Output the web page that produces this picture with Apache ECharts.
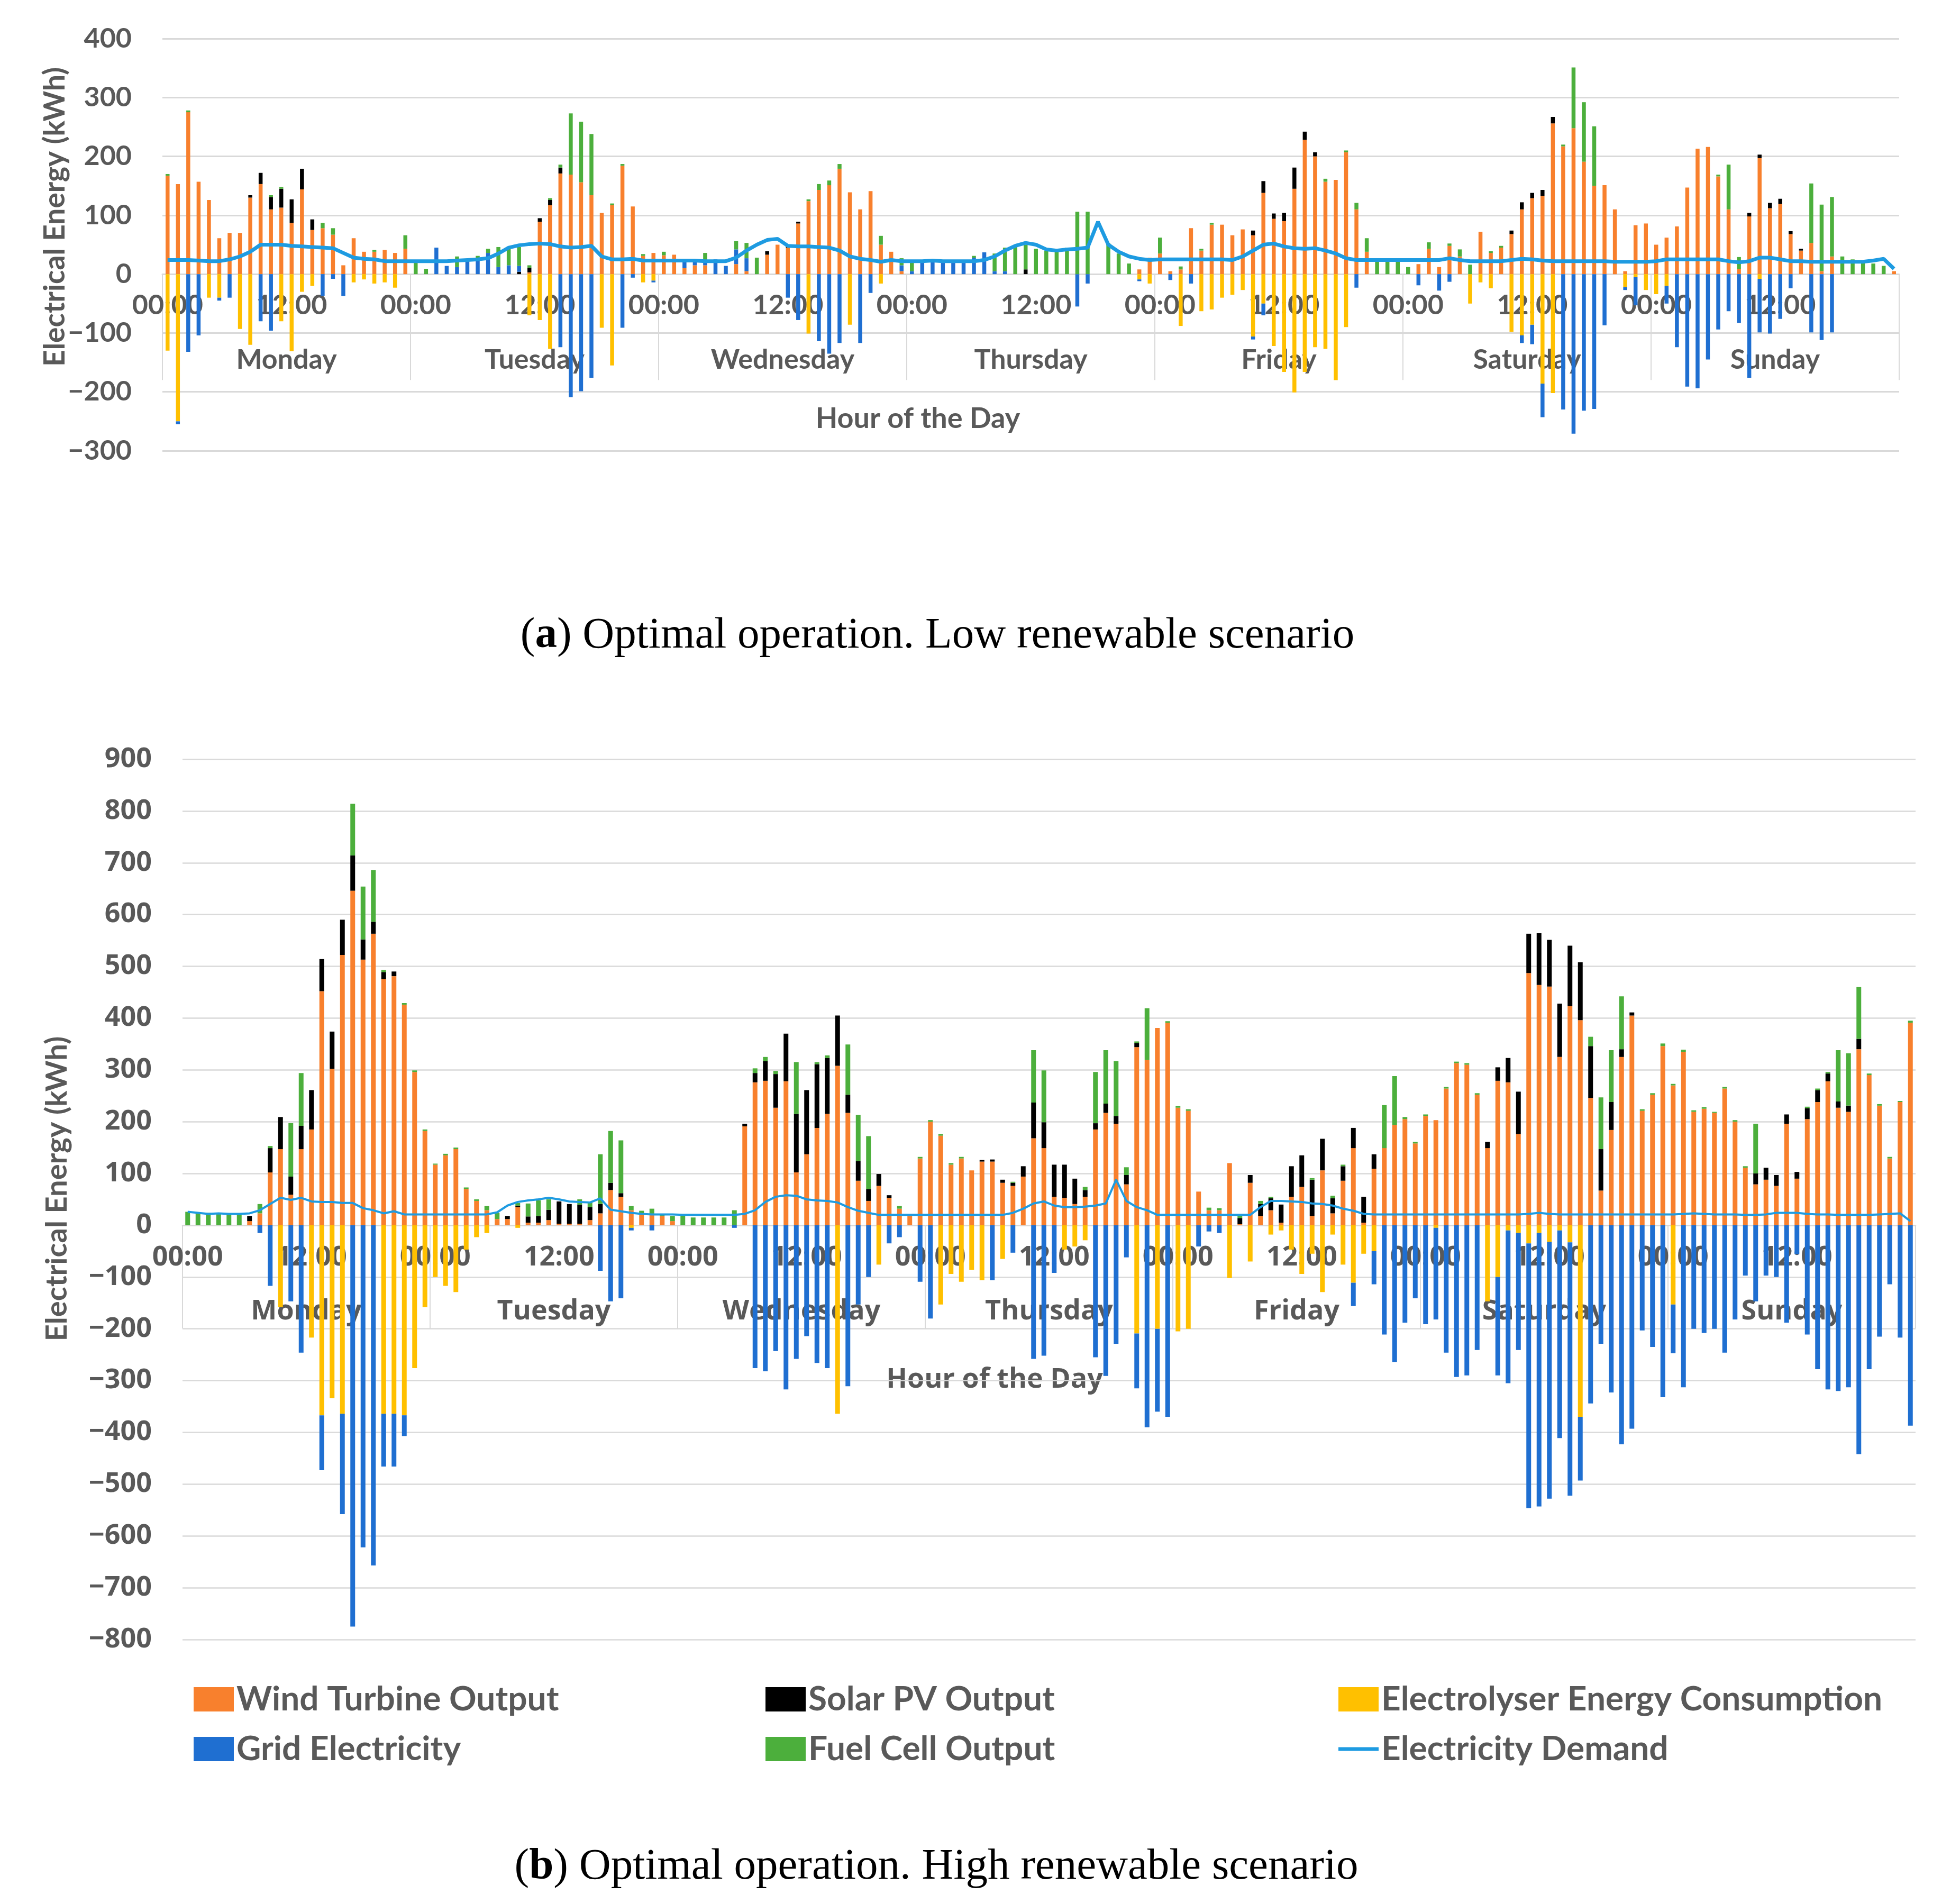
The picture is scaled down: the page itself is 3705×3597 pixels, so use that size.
<!DOCTYPE html>
<html>
<head>
<meta charset="utf-8">
<title>Optimal operation - low and high renewable scenario</title>
<script src="https://cdn.jsdelivr.net/npm/echarts@6/dist/echarts.min.js"></script>
<style>
html, body { margin: 0; padding: 0; background: #fff; }
#main { width: 3705px; height: 3597px; }
</style>
</head>
<body>
<div id="main"></div>
<script>
// categories
var hourLabels = ['00:00','01:00','02:00','03:00','04:00','05:00','06:00','07:00','08:00','09:00','10:00','11:00',
                  '12:00','13:00','14:00','15:00','16:00','17:00','18:00','19:00','20:00','21:00','22:00','23:00'];
var days = ['Monday','Tuesday','Wednesday','Thursday','Friday','Saturday','Sunday'];

// (a) low renewable scenario, one value per hour, Monday..Sunday
var windA = [
  167,153,275,157,126,61,70,70,130,153,110,113,87,144,75,78,67,15,61,38,38,41,36,43,
  0,0,0,0,0,0,0,0,0,0,0,3,89,117,171,169,156,134,104,117,184,115,31,36,
  32,33,10,15,15,0,0,17,5,0,33,50,45,86,124,143,151,179,139,110,141,50,38,5,
  0,0,0,0,0,0,0,0,0,0,0,0,0,0,0,0,0,0,0,0,0,0,8,28,
  35,5,8,78,40,84,84,66,76,66,138,94,90,145,228,200,157,160,207,110,38,0,0,0,
  0,17,43,12,48,30,0,72,36,45,68,110,129,133,256,217,248,191,150,151,110,5,83,86,
  50,62,81,147,213,216,166,110,9,98,197,112,119,68,40,53,5,30,0,0,0,0,0,5
];
var solarA = [
  0,0,0,0,0,0,0,0,4,19,21,32,40,35,18,0,0,0,0,0,0,0,0,0,
  0,0,0,0,0,0,0,0,0,0,4,8,6,9,10,0,0,0,0,0,0,0,0,0,
  0,0,0,0,0,0,0,0,0,0,6,0,3,3,0,0,0,0,0,0,0,0,0,0,
  0,0,0,0,0,0,0,0,0,0,0,8,0,0,0,0,0,0,0,0,0,0,0,0,
  0,0,0,0,0,0,0,0,0,8,20,9,14,36,14,7,0,0,0,0,0,0,0,0,
  0,0,0,0,0,0,0,0,0,0,6,12,9,10,11,0,0,0,0,0,0,0,0,0,
  0,0,0,0,0,0,0,0,0,6,6,9,9,5,3,0,0,0,0,0,0,0,0,0
];
var elecA = [
  -130,-250,0,0,-40,-40,0,-93,-120,0,0,-80,-131,-30,-20,0,0,0,-14,-9,-16,-14,-23,0,
  0,0,0,0,0,0,0,0,0,0,0,-70,-78,-127,0,0,0,0,-91,-155,0,0,-14,-11,
  0,0,0,0,0,0,0,0,0,0,0,0,0,0,-101,0,0,0,-86,0,0,-16,0,0,
  0,0,0,0,0,0,0,0,0,0,0,0,0,0,0,0,0,0,0,0,0,0,-9,-16,
  0,0,-88,0,-63,-60,-40,-35,-27,-106,-50,-122,-166,-201,-166,-124,-127,-180,-90,0,0,0,0,0,
  0,0,0,0,0,0,-50,-14,-24,0,-98,-104,-86,-186,-202,0,0,0,0,0,0,-22,-5,-27,
  -34,-20,0,0,0,0,0,0,0,0,-8,0,0,0,0,0,0,0,0,0,0,0,0,0
];
var gridA = [
  0,-5,-132,-104,0,-5,-40,0,0,-80,-96,0,0,0,0,-37,-8,-37,0,0,0,0,0,0,
  0,0,45,14,12,22,25,36,12,15,10,0,0,0,-124,-209,-199,-176,0,0,-91,-6,0,-3,
  0,0,15,8,5,25,14,25,22,0,0,0,-40,-78,0,-114,-135,-117,0,-117,-32,0,0,10,
  5,22,23,22,22,22,28,37,5,5,0,0,0,0,0,0,-55,-16,0,0,0,0,-3,0,
  0,-10,0,-16,0,0,0,0,0,-5,-20,0,0,0,0,0,0,0,0,-23,0,0,0,0,
  0,-19,0,-28,-13,0,0,0,0,0,0,-13,-33,-57,0,-230,-271,-232,-229,-87,0,-5,-48,0,
  0,-30,-124,-191,-194,-145,-94,-63,-83,-176,-91,-101,-76,-24,0,-99,-112,-99,0,0,0,0,0,0
];
var fuelA = [
  3,0,3,0,0,0,0,0,0,0,3,3,0,0,0,9,11,0,0,0,3,0,0,23,
  22,9,0,0,18,0,6,7,34,30,32,4,0,3,5,104,103,104,0,3,3,0,3,0,
  6,0,0,0,16,0,0,14,26,28,0,0,0,0,3,10,8,8,0,0,0,15,0,12,
  14,0,0,0,0,0,3,0,30,40,48,42,43,40,40,45,106,106,0,53,35,18,0,0,
  27,0,5,0,3,3,0,0,0,0,0,0,0,0,0,0,5,0,3,11,23,22,22,23,
  12,0,11,0,4,12,16,0,3,3,0,0,0,0,0,3,103,101,101,0,0,0,0,0,
  0,0,0,0,0,0,3,76,20,0,0,0,0,0,0,101,113,101,30,25,23,18,14,0
];
var demandA = [
  24,24,24,23,22,22,25,30,38,50,50,50,48,47,46,45,44,36,28,26,25,22,22,22,
  22,22,22,22,23,24,25,27,35,45,49,51,52,51,47,45,46,48,30,25,25,26,23,23,
  23,23,23,23,22,22,22,28,40,50,58,60,48,47,47,46,45,40,30,26,24,21,24,22,
  22,22,23,22,22,22,22,24,30,40,48,53,50,42,40,42,43,45,89,50,38,30,26,24,
  25,25,25,25,25,25,25,24,30,40,50,52,47,44,43,44,40,35,27,24,24,24,24,24,
  24,24,24,24,27,24,22,22,22,22,24,26,25,23,22,22,22,22,22,22,21,21,21,21,
  22,25,25,25,25,25,25,22,20,22,28,28,25,22,22,21,21,21,21,21,21,23,26,9
];

// (b) high renewable scenario
var windB = [
  0,0,0,0,0,0,8,23,102,147,59,147,185,452,302,522,646,513,563,475,481,426,296,182,
  117,135,147,70,47,29,12,12,35,5,5,10,3,3,3,10,23,68,55,29,23,20,18,8,
  0,0,0,0,0,0,191,276,279,227,278,102,137,188,215,308,217,86,47,76,53,32,18,129,
  200,173,117,129,106,123,123,82,76,94,168,149,55,53,41,55,185,217,196,79,344,319,381,391,
  227,221,65,29,29,120,2,82,18,29,5,55,74,18,106,23,86,149,5,109,149,194,205,158,
  211,203,264,313,310,252,149,279,276,176,487,464,461,325,423,396,246,67,184,325,405,221,252,346,
  270,335,219,225,217,264,200,111,79,88,76,196,90,205,238,278,227,219,340,290,231,129,238,391
];
var solarB = [
  0,0,0,0,0,0,10,0,47,62,35,45,76,62,72,68,68,39,23,14,9,0,0,0,
  0,0,0,0,0,0,0,6,3,12,13,20,43,38,37,25,18,14,7,0,0,0,0,0,
  0,0,0,0,0,0,5,18,38,65,92,113,124,123,108,97,35,38,23,23,5,0,0,0,
  0,0,0,0,0,3,4,6,6,20,69,50,62,64,49,13,12,18,15,18,8,0,0,0,
  0,0,0,0,0,0,12,15,23,23,35,59,61,70,61,29,28,39,50,28,0,0,0,0,
  0,0,0,0,0,0,12,26,47,82,76,100,90,103,117,112,100,80,54,15,6,0,0,0,
  0,0,0,0,0,0,0,0,21,23,21,18,13,21,23,15,12,12,20,0,0,0,0,0
];
var elecB = [
  0,0,0,0,0,0,0,0,0,-158,0,0,-217,-367,-334,-364,0,0,0,-364,-364,-367,-276,-158,
  -100,-117,-129,-47,-23,-15,0,0,-5,0,0,0,0,0,0,0,0,0,0,-5,0,0,0,0,
  0,0,0,0,0,0,0,0,0,0,0,0,0,0,0,-364,0,0,0,-76,0,0,0,0,
  0,-153,-94,-109,-86,-106,0,-65,0,0,0,0,0,-47,-41,-29,0,0,0,0,-209,0,-200,0,
  -205,-200,0,0,0,-102,0,-70,0,-18,-10,-47,-94,-55,-129,-18,-76,-111,-55,-50,0,0,0,0,
  0,-5,0,0,0,0,-147,-100,-10,-15,-35,-15,-32,-10,-33,-370,0,0,0,0,0,0,0,0,
  -153,0,0,0,0,0,0,0,0,0,0,0,0,0,0,0,0,0,0,0,0,0,0,0
];
var gridB = [
  0,0,0,0,0,0,0,-15,-117,0,-147,-246,0,-106,0,-194,-775,-622,-657,-102,-102,-40,0,0,
  0,0,0,0,0,0,0,0,0,0,0,0,0,0,0,0,-88,-147,-141,-5,0,-10,0,0,
  0,0,0,0,0,-5,0,-276,-282,-243,-317,-258,-214,-266,-276,0,-311,-153,-100,0,-35,-23,0,-109,
  -180,0,0,0,0,0,-106,0,-53,0,-258,-252,-92,0,0,0,-255,-291,-229,-62,-106,-390,-160,-370,
  0,0,-41,-12,-15,0,0,0,0,0,0,0,0,0,0,0,0,-45,0,-64,-211,-264,-188,-141,
  -191,-177,-246,-293,-290,-241,0,-190,-295,-226,-511,-528,-496,-401,-489,-123,-344,-229,-323,-423,-393,-203,-235,-332,
  -94,-313,-200,-208,-200,-246,-182,-97,-147,-97,-100,-188,-56,-211,-278,-317,-320,-313,-442,-278,-215,-114,-217,-387
];
var fuelB = [
  26,24,24,22,22,22,0,18,4,0,103,102,0,0,0,0,100,102,100,4,0,3,3,3,
  2,3,3,3,3,8,12,0,5,25,30,20,0,0,10,10,96,100,102,8,5,12,3,10,
  20,15,15,15,15,29,0,9,8,6,0,100,0,4,5,0,97,89,102,0,0,5,0,3,
  3,3,3,3,0,0,0,0,2,0,101,100,0,0,0,6,99,103,106,15,3,100,0,3,
  3,3,0,5,4,0,5,0,6,3,0,0,0,3,0,5,3,0,0,0,83,94,4,3,
  3,0,3,3,3,3,0,0,0,0,0,0,0,0,0,0,18,100,100,102,0,3,3,5,
  3,4,3,3,2,3,3,3,96,0,0,0,0,3,3,3,99,101,100,3,3,3,2,4
];
var demandB = [
  26,24,22,23,22,22,23,29,41,53,49,53,46,45,45,43,43,33,29,23,27,21,21,21,
  21,21,21,21,21,21,25,38,45,48,50,53,50,46,45,44,52,30,27,24,22,21,21,21,
  20,20,20,20,20,20,22,29,45,55,58,57,50,48,47,44,35,28,24,20,20,20,20,20,
  20,20,20,20,20,20,20,20,24,32,42,46,38,35,35,36,38,42,88,47,35,29,20,20,
  20,20,20,20,20,20,20,20,35,47,47,46,45,42,41,38,32,28,22,21,21,21,21,21,
  21,21,21,21,21,21,21,21,21,21,22,24,22,21,21,21,21,21,21,21,21,21,21,21,
  21,22,23,22,21,21,21,20,20,21,24,24,24,22,21,21,20,20,20,20,21,22,23,8
];

var hours = [];
for (var d = 0; d < days.length; d++) hours = hours.concat(hourLabels);

var GREY = '#595959';
var LINE = '#D9D9D9';
var C = { wind: '#F8802D', solar: '#000000', elec: '#FFC000', grid: '#1F6FD1', fuel: '#4CAF3C', demand: '#1E9BE1' };
var H = 3597;

var pA = { left: 307, right: 115, top: 73, bottom: 2745, min: -300, max: 400, font: 'Lato', fs: 52, tick: 200, gl: 3 };
var pB = { left: 345, right: 84, top: 1435, bottom: 498, min: -800, max: 900, font: 'Open Sans', fs: 52, tick: 195, gl: 2.5 };

// distance (px) from the bottom of the plot up to the zero line
function zeroOffset(p) {
  var h = H - p.top - p.bottom;
  return -h * (0 - p.min) / (p.max - p.min);
}
function minusFmt(v) { return v < 0 ? '\u2212' + (-v) : String(v); }

function txt(p) { return { fontFamily: p.font, fontWeight: 'bold', fontSize: p.fs, color: GREY }; }

function xAxes(p, gi, hourMargin, dayMargin) {
  var off = zeroOffset(p);
  return [
    {
      type: 'category', gridIndex: gi, data: hours, position: 'bottom', offset: off,
      axisLine: { onZero: false, lineStyle: { color: LINE, width: p.gl } },
      axisTick: { show: false },
      axisLabel: Object.assign({ interval: 11, margin: hourMargin }, txt(p)),
      splitLine: { show: false }
    },
    {
      type: 'category', gridIndex: gi, data: days, position: 'bottom', offset: off,
      axisLine: { show: false, onZero: false },
      axisTick: { show: true, interval: 0, length: p.tick, lineStyle: { color: LINE, width: 2 } },
      axisLabel: Object.assign({ interval: 0, margin: dayMargin }, txt(p)),
      splitLine: { show: false }
    }
  ];
}
function yAxis(p, gi) {
  return {
    type: 'value', gridIndex: gi, min: p.min, max: p.max, interval: 100,
    axisLine: { show: false }, axisTick: { show: false },
    splitLine: { lineStyle: { color: LINE, width: p.gl } },
    axisLabel: Object.assign({ margin: 58, formatter: minusFmt }, txt(p))
  };
}

function bars(name, data, color, xi, yi, stack, w) {
  return {
    name: name, type: 'bar', data: data, xAxisIndex: xi, yAxisIndex: yi,
    stack: stack, barWidth: w, itemStyle: { color: color }, emphasis: { disabled: true }
  };
}
function demand(data, xi, yi, w) {
  return {
    name: 'Electricity Demand', type: 'line', data: data, xAxisIndex: xi, yAxisIndex: yi,
    symbol: 'none', z: 5, lineStyle: { color: C.demand, width: w }, itemStyle: { color: C.demand }
  };
}

function panelSeries(d, xi, yi, stack, w, lw) {
  return [
    bars('Wind Turbine Output', d.wind, C.wind, xi, yi, stack, w),
    bars('Solar PV Output', d.solar, C.solar, xi, yi, stack, w),
    bars('Electrolyser Energy Consumption', d.elec, C.elec, xi, yi, stack, w),
    bars('Grid Electricity', d.grid, C.grid, xi, yi, stack, w),
    bars('Fuel Cell Output', d.fuel, C.fuel, xi, yi, stack, w),
    demand(d.demand, xi, yi, lw)
  ];
}

var legendText = { fontFamily: 'Lato', fontWeight: 'bold', fontSize: 64, color: GREY };
function legendCol(left, items) {
  return {
    left: left, top: 3180, orient: 'vertical', padding: 0, itemGap: 30,
    itemWidth: 76, itemHeight: 46, textStyle: legendText, selectedMode: false, data: items
  };
}

function label(x, y, text, font, size, rot) {
  return {
    type: 'text', x: x, y: y, rotation: rot || 0,
    style: { text: text, fontFamily: font, fontWeight: 'bold', fontSize: size, fill: GREY,
             align: 'center', verticalAlign: 'middle' }
  };
}
function caption(x, y, letter, text) {
  return {
    type: 'text', x: x, y: y,
    style: {
      text: '(' + '{b|' + letter + '}' + ') ' + text,
      fontFamily: 'Liberation Serif', fontSize: 83, fill: '#000',
      align: 'center', verticalAlign: 'middle',
      rich: { b: { fontFamily: 'Liberation Serif', fontSize: 83, fontWeight: 'bold', fill: '#000' } }
    }
  };
}

var myChart = echarts.init(document.getElementById('main'));
var option = {
  backgroundColor: '#ffffff',
  animation: false,
  grid: [
    { left: pA.left, right: pA.right, top: pA.top, bottom: pA.bottom, outerBoundsMode: 'none', containLabel: false },
    { left: pB.left, right: pB.right, top: pB.top, bottom: pB.bottom, outerBoundsMode: 'none', containLabel: false }
  ],
  xAxis: xAxes(pA, 0, 33, 136).concat(xAxes(pB, 1, 35, 137)),
  yAxis: [yAxis(pA, 0), yAxis(pB, 1)],
  legend: [
    legendCol(366, [{ name: 'Wind Turbine Output', icon: 'rect' }, { name: 'Grid Electricity', icon: 'rect' }]),
    legendCol(1447, [{ name: 'Solar PV Output', icon: 'rect' }, { name: 'Fuel Cell Output', icon: 'rect' }]),
    legendCol(2530, [{ name: 'Electrolyser Energy Consumption', icon: 'rect' },
                     { name: 'Electricity Demand', icon: 'path://M0,0H22V2H0Z' }])
  ],
  graphic: [
    label(104, 410, 'Electrical Energy (kWh)', 'Lato', 55, Math.PI / 2),
    label(1735, 792, 'Hour of the Day', 'Lato', 54),
    caption(1772, 1202, 'a', 'Optimal operation. Low renewable scenario'),
    label(108, 2247, 'Electrical Energy (kWh)', 'Lato', 56, Math.PI / 2),
    label(1880, 2608, 'Hour of the Day', 'Open Sans', 52),
    caption(1770, 3529, 'b', 'Optimal operation. High renewable scenario')
  ],
  series: panelSeries({ wind: windA, solar: solarA, elec: elecA, grid: gridA, fuel: fuelA, demand: demandA }, 0, 0, 'A', 7.5, 7)
    .concat(panelSeries({ wind: windB, solar: solarB, elec: elecB, grid: gridB, fuel: fuelB, demand: demandB }, 2, 1, 'B', 9, 4))
};
myChart.setOption(option);

window.onresize = function () {
  myChart.resize();
};
</script>
</body>
</html>
